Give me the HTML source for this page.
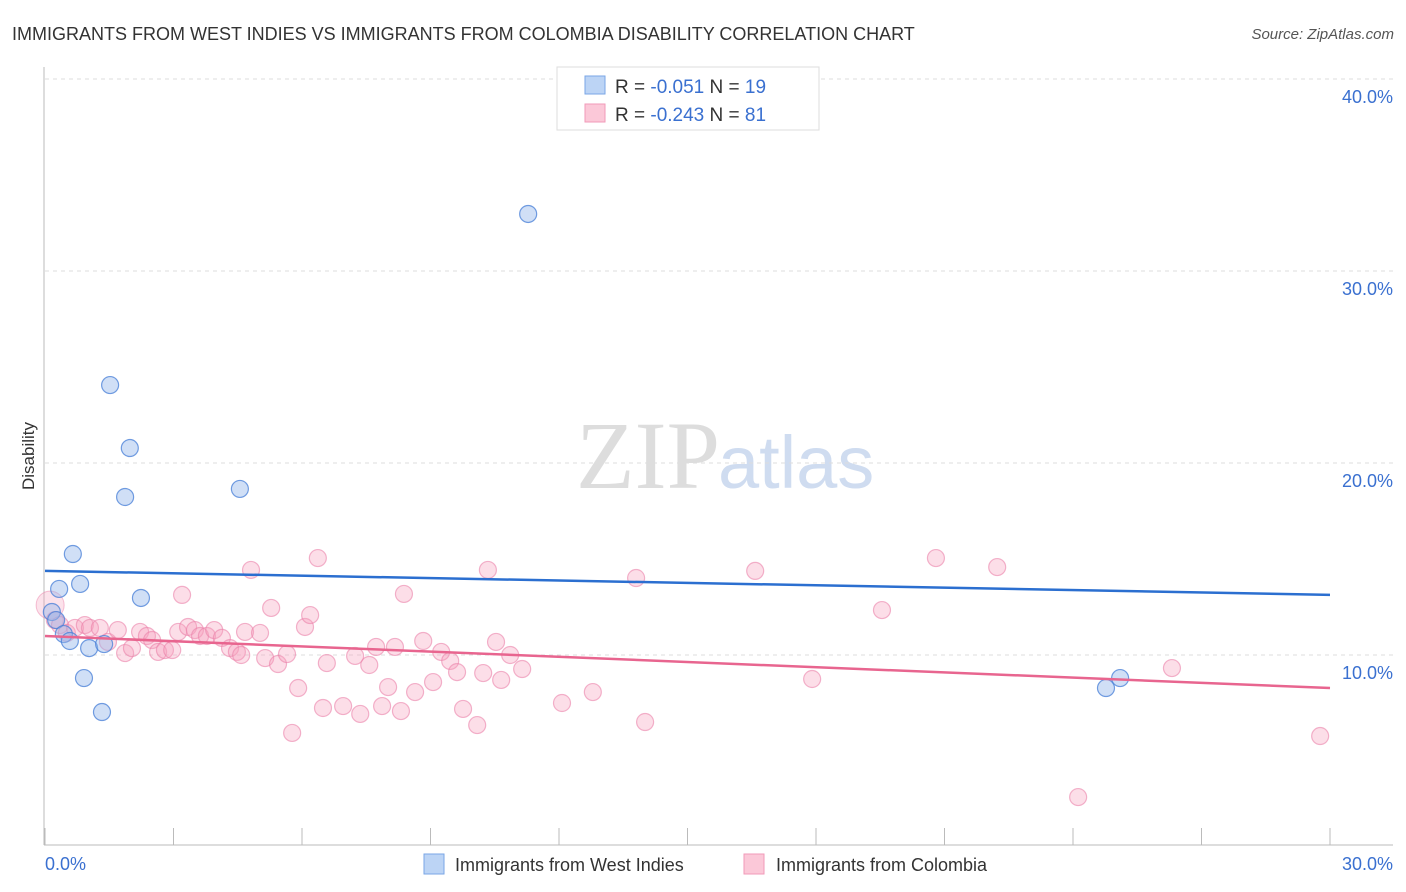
<!DOCTYPE html>
<html><head><meta charset="utf-8"><style>
body{margin:0;background:#fff;font-family:"Liberation Sans",sans-serif}
svg{display:block}
</style></head><body>
<svg id="c" width="1406" height="892">
<text x="12" y="40" font-size="18" fill="#333">IMMIGRANTS FROM WEST INDIES VS IMMIGRANTS FROM COLOMBIA DISABILITY CORRELATION CHART</text>
<text x="1394" y="39" font-size="15" fill="#555" font-style="italic" text-anchor="end">Source: ZipAtlas.com</text>
<text x="720" y="488" font-size="96" fill="#ddd" text-anchor="end" font-family="Liberation Serif">ZIP</text>
<text x="718" y="488" font-size="74" fill="#cfdcf0">atlas</text>
<text transform="translate(34,456) rotate(-90)" font-size="17" fill="#333" text-anchor="middle">Disability</text>
<g id="grid"></g><g id="pts"></g><g id="lines"></g>
<g>
<rect x="557" y="67" width="262" height="63" fill="#fff" stroke="#ddd"/>
<rect x="585" y="76" width="20" height="18" fill="#bcd4f5" stroke="#7aa6e6"/>
<rect x="585" y="104" width="20" height="18" fill="#fbc8d8" stroke="#f19ab8"/>
<text x="615" y="93" font-size="19" fill="#333">R = <tspan fill="#3a70d0">-0.051</tspan>   N = <tspan fill="#3a70d0">19</tspan></text>
<text x="615" y="121" font-size="19" fill="#333">R = <tspan fill="#3a70d0">-0.243</tspan>   N = <tspan fill="#3a70d0">81</tspan></text>
</g>
<g>
<rect x="424" y="854" width="20" height="20" fill="#bcd4f5" stroke="#7aa6e6"/>
<text x="455" y="871" font-size="18" fill="#333">Immigrants from West Indies</text>
<rect x="744" y="854" width="20" height="20" fill="#fbc8d8" stroke="#f19ab8"/>
<text x="776" y="871" font-size="18" fill="#333">Immigrants from Colombia</text>
</g>
</svg>
<script>
const xTicks=[0,3,6,9,12,15,18,21,24,27,30];
const yTicks=[10,20,30,40];
const xLabels=["0.0%","30.0%"];
const blueX=[0.16,0.26,0.33,0.65,0.82,0.44,0.58,1.03,1.38,0.91,1.33,1.52,1.98,1.87,2.24,4.55,11.28,24.77,25.10];
const blueY=[12.24,11.82,13.44,15.26,13.70,11.09,10.73,10.36,10.57,8.80,7.03,24.06,20.78,18.23,12.97,18.65,32.97,8.28,8.80];
const pinkX=[0.23,0.35,0.51,0.70,0.93,1.05,1.28,1.47,1.70,1.87,2.03,2.22,2.38,2.50,2.64,2.80,2.97,3.11,3.20,3.34,3.50,3.62,3.78,3.95,4.13,4.32,4.48,4.58,4.67,4.81,5.02,5.14,5.28,5.44,5.65,5.77,5.91,6.07,6.19,6.37,6.49,6.58,6.96,7.24,7.36,7.57,7.73,7.87,8.01,8.17,8.31,8.38,8.64,8.83,9.06,9.25,9.46,9.62,9.76,10.09,10.23,10.34,10.53,10.65,10.86,11.14,12.07,12.79,13.80,14.01,16.58,17.91,19.54,20.80,22.23,24.12,26.31,29.77];
const pinkY=[11.82,11.56,11.15,11.41,11.56,11.41,11.41,10.68,11.30,10.10,10.36,11.20,10.99,10.78,10.16,10.26,10.26,11.20,13.13,11.46,11.30,10.99,10.99,11.30,10.89,10.36,10.16,10.00,11.20,14.43,11.15,9.84,12.45,9.53,10.05,5.94,8.28,11.46,12.08,15.05,7.24,9.58,7.34,9.95,6.93,9.48,10.42,7.34,8.33,10.42,7.08,13.18,8.07,10.73,8.59,10.16,9.69,9.11,7.19,6.35,9.06,14.43,10.68,8.70,10.00,9.27,7.50,8.07,14.01,6.51,14.38,8.75,12.34,15.05,14.58,2.60,9.32,5.78];
const blueTrend=[14.38,13.13];
const pinkTrend=[10.99,8.28];
const X=v=>45+v/30*1285, Y=v=>847-v*19.2;
const NS="http://www.w3.org/2000/svg";
function mk(t,a,p){const e=document.createElementNS(NS,t);for(const k in a)e.setAttribute(k,a[k]);p.appendChild(e);return e;}
const g=document.getElementById('grid');
mk('line',{x1:44,y1:67,x2:44,y2:845,stroke:'#bbb'},g);
mk('line',{x1:44,y1:845,x2:1393,y2:845,stroke:'#bbb'},g);
yTicks.forEach(t=>{
 const l=mk('line',{x1:45,y1:Y(t),x2:1393,y2:Y(t),stroke:'#ddd','stroke-dasharray':'4,4'},g);
 
 
 const tx=mk('text',{x:1393,y:Y(t)+24,'font-size':18,fill:'#3a70d0','text-anchor':'end'},g);tx.textContent=t.toFixed(1)+'%';
 
 
});
xTicks.forEach(t=>{
 const l=mk('line',{x1:X(t),y1:828,x2:X(t),y2:845,stroke:'#bbb'},g);
 
 
});
[[0,xLabels[0],'start',45],[30,xLabels[1],'end',1393]].forEach(d=>{
 const tx=mk('text',{x:d[3],y:870,'font-size':18,fill:'#3a70d0','text-anchor':d[2]},g);tx.textContent=d[1];
 
 
});
const p=document.getElementById('pts');
const big=mk('circle',{cx:X(0.12),cy:Y(12.6),r:14,fill:'rgba(245,160,190,0.3)',stroke:'rgba(235,130,170,0.5)'},p);


pinkX.forEach((x,i)=>{
 const c=mk('circle',{cx:X(x),cy:Y(pinkY[i]),r:8.5,fill:'rgba(245,160,190,0.35)',stroke:'rgba(235,130,170,0.6)','stroke-width':1.2},p);
 
 
});
blueX.forEach((x,i)=>{
 const c=mk('circle',{cx:X(x),cy:Y(blueY[i]),r:8.5,fill:'rgba(150,185,235,0.45)',stroke:'rgba(70,125,215,0.75)','stroke-width':1.2},p);
 
 
});
const L=document.getElementById('lines');
const b=mk('line',{x1:X(0),y1:Y(blueTrend[0]),x2:X(30),y2:Y(blueTrend[1]),stroke:'#2b6fd0','stroke-width':2.5},L);


const q=mk('line',{x1:X(0),y1:Y(pinkTrend[0]),x2:X(30),y2:Y(pinkTrend[1]),stroke:'#e8658f','stroke-width':2.5},L);


</script>
</body></html>
